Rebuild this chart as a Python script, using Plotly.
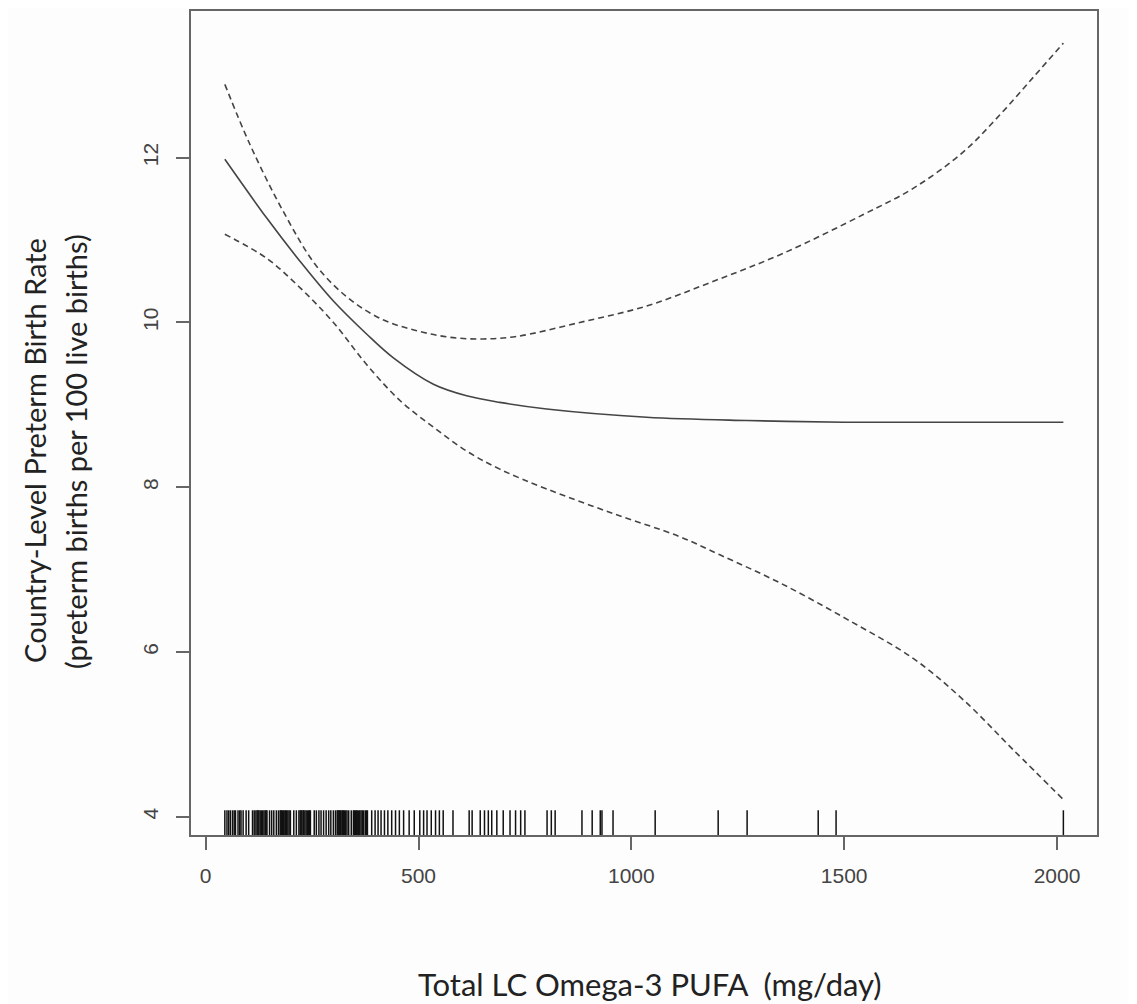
import plotly.graph_objects as go

# ---- data ----
fit_x = [45, 143, 222, 300, 378, 441, 535, 613, 691, 801, 1036, 1271, 1500, 1750, 2015]
fit_y = [11.98, 11.27, 10.74, 10.26, 9.86, 9.57, 9.25, 9.11, 9.03, 8.95, 8.85, 8.81, 8.79, 8.79, 8.79]

upper_x = [45, 104, 182, 261, 339, 418, 496, 574, 652, 730, 879, 1036, 1193, 1357, 1545, 1663, 1780, 1866, 1945, 2015]
upper_y = [12.89, 12.16, 11.35, 10.68, 10.28, 10.03, 9.90, 9.82, 9.80, 9.83, 10.00, 10.20, 10.50, 10.84, 11.31, 11.63, 12.07, 12.52, 12.98, 13.39]

lower_x = [45, 143, 222, 300, 378, 457, 535, 613, 691, 801, 958, 1114, 1208, 1349, 1506, 1663, 1780, 1898, 2015]
lower_y = [11.07, 10.78, 10.42, 10.00, 9.49, 9.05, 8.73, 8.44, 8.22, 7.98, 7.68, 7.40, 7.18, 6.84, 6.40, 5.92, 5.42, 4.81, 4.21]

rug_x = [45, 50, 54, 58, 63, 67, 70, 76, 80, 83, 88, 95, 101, 110, 114, 118, 121, 123, 125,
         128, 131, 134, 137, 140, 142, 144, 150, 155, 160, 166, 171, 175, 177, 178, 181,
         183, 186, 188, 190, 193, 196, 199, 207, 213, 219, 222, 224, 226, 229, 230, 233,
         236, 239, 242, 244, 246, 255, 260, 266, 271, 277, 283, 289, 294, 300, 305, 309,
         311, 313, 315, 317, 320, 322, 324, 326, 329, 332, 336, 342, 347, 349, 352, 354,
         356, 359, 362, 365, 368, 371, 375, 378, 380, 390, 398, 405, 412, 420, 428, 437,
         446, 455, 465, 478, 490, 503, 512, 520, 530, 540, 549, 558, 581, 619, 626, 645,
         655, 664, 672, 684, 699, 715, 728, 740, 750, 802, 812, 821, 884, 908, 927, 931,
         957, 1056, 1204, 1272, 1439, 1481, 2015]

x_ticks = [0, 500, 1000, 1500, 2000]
y_ticks = [4, 6, 8, 10, 12]
x_range = [-34.5, 2094]
y_range = [3.78, 13.78]

x_title = "Total LC Omega-3 PUFA&nbsp; (mg/day)"
y_title_1 = "Country-Level Preterm Birth Rate"
y_title_2 = "(preterm births per 100 live births)"

# ---- figure ----
line_col = "#444444"
fig = go.Figure()

spl = dict(shape="spline", smoothing=1.0)
fig.add_trace(go.Scatter(x=fit_x, y=fit_y, mode="lines",
                         line=dict(color=line_col, width=1.6, **spl),
                         showlegend=False, hoverinfo="skip"))
fig.add_trace(go.Scatter(x=upper_x, y=upper_y, mode="lines",
                         line=dict(color=line_col, width=1.6, dash="6px,4px", **spl),
                         showlegend=False, hoverinfo="skip"))
fig.add_trace(go.Scatter(x=lower_x, y=lower_y, mode="lines",
                         line=dict(color=line_col, width=1.6, dash="6px,4px", **spl),
                         showlegend=False, hoverinfo="skip"))

# rug
rug_lo = y_range[0]
rug_hi = y_range[0] + 0.03 * (y_range[1] - y_range[0])
rx, ry = [], []
for v in rug_x:
    rx += [v, v, None]
    ry += [rug_lo, rug_hi, None]
fig.add_trace(go.Scatter(x=rx, y=ry, mode="lines",
                         line=dict(color="#111111", width=1.5),
                         showlegend=False, hoverinfo="skip"))

tick_font = dict(family="Liberation Sans, Arial, sans-serif", size=21, color="#444444")
axis_common = dict(showgrid=False, zeroline=False, showline=True, mirror=True,
                   linecolor="#666666", linewidth=2, ticks="outside", ticklen=13,
                   tickwidth=1.5, tickcolor="#666666", tickfont=tick_font)

# page body adds an 8px offset; figure is sized to fit inside the window
W, H = 1129, 996
L, T, R, B = 183, 1, 40, 169
fig.update_layout(
    width=W, height=H,
    margin=dict(l=L, r=R, t=T, b=B),
    paper_bgcolor="#fdfdfd", plot_bgcolor="#fdfdfd",
    xaxis=dict(range=x_range, tickvals=x_ticks, ticklabelstandoff=8, **axis_common),
    yaxis=dict(range=y_range, tickvals=y_ticks, tickangle=-90, ticklabelstandoff=10, **axis_common),
)

pw, ph = W - L - R, H - T - B
def px(xp):
    return (xp - 8 - L) / pw
def py(yp):
    return (H - B - (yp - 8)) / ph

title_font = dict(family="Lato, Open Sans, sans-serif", size=29, color="#222222")
fig.add_annotation(text=x_title, xref="paper", yref="paper",
                   x=px(650), y=py(984),
                   xanchor="center", yanchor="middle", showarrow=False,
                   font=dict(title_font, size=31))
fig.add_annotation(text=y_title_1, xref="paper", yref="paper",
                   x=px(35), y=py(450), textangle=-90,
                   xanchor="center", yanchor="middle", showarrow=False, font=title_font)
fig.add_annotation(text=y_title_2, xref="paper", yref="paper",
                   x=px(76), y=py(451), textangle=-90,
                   xanchor="center", yanchor="middle", showarrow=False, font=title_font)

fig.write_html("out.html")
